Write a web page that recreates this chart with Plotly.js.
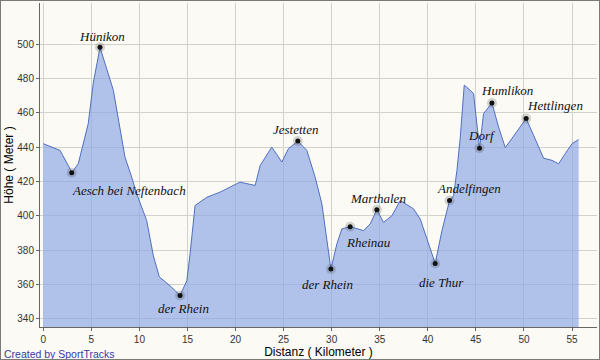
<!DOCTYPE html>
<html>
<head>
<meta charset="utf-8">
<script src="https://cdn.plot.ly/plotly-3.0.1.min.js"></script>
<style>
html,body{margin:0;padding:0;background:#fbfaf5;}
#wrap{width:598px;height:358px;border:1px solid #7a7a7a;}
</style>
</head>
<body>
<div id="wrap"><div id="chart"></div></div>
<script>
// Elevation profile (distance in km, elevation in m)
const distanceKm = [0, 1.74, 2.78, 2.96, 3.64, 4.68, 5.20, 5.90, 7.29, 8.50, 9.20, 9.72, 10.76, 11.45, 12.07, 13.18, 14.23, 14.93, 15.27, 15.61, 15.79, 17.01, 18.39, 20.13, 20.48, 22.04, 22.56, 23.77, 24.82, 25.50, 26.48, 27.42, 28.28, 28.98, 29.50, 29.92, 30.54, 31.06, 31.92, 33.31, 34.01, 34.70, 35.39, 36.27, 37.13, 38.51, 39.21, 40.07, 40.77, 41.47, 42.26, 42.68, 43.03, 43.38, 43.79, 44.41, 44.76, 45.38, 45.80, 46.67, 47.36, 48.06, 49.10, 50.23, 51.00, 52.04, 52.92, 53.60, 54.30, 55.00, 55.69];
const elevationM = [442.0, 438.1, 427.4, 425.1, 430.3, 453.7, 477.2, 498.1, 473.1, 434.2, 422.5, 412.8, 397.2, 376.8, 364.5, 359.3, 353.7, 362.2, 377.8, 399.2, 406.0, 410.8, 413.8, 418.7, 419.6, 417.7, 429.3, 440.0, 431.3, 439.1, 443.5, 438.1, 422.5, 407.0, 385.5, 369.0, 383.6, 392.4, 393.7, 391.4, 395.3, 403.5, 396.2, 400.1, 408.9, 404.1, 398.2, 384.6, 372.3, 391.4, 408.9, 411.8, 426.4, 445.9, 476.1, 473.1, 471.2, 439.4, 459.5, 465.7, 451.7, 439.7, 447.9, 456.6, 446.9, 433.6, 432.3, 430.3, 436.2, 442.0, 444.4];

// Named waypoints
const placeNames = ["Hünikon", "Aesch bei Neftenbach", "der Rhein", "Jestetten", "der Rhein", "Rheinau", "Marthalen", "die Thur", "Andelfingen", "Dorf", "Humlikon", "Hettlingen"];
const placeKm = [5.90, 2.96, 14.23, 26.48, 29.92, 31.92, 34.70, 40.77, 42.26, 45.38, 46.67, 50.23];
const placeElev = [498.1, 425.1, 353.7, 443.5, 369.0, 393.7, 403.5, 372.3, 408.9, 439.4, 465.7, 456.6];
// label offsets in pixels (style only)
const labelShiftX = [2, 57, 3, -2, -3, 18, 1, 6, 19, 2, 15, 29];
const labelShiftY = [11, -18, -13, 12, -15, -16, 11, -19, 12, 13, 12, 13];

const xTicks = [0, 5, 10, 15, 20, 25, 30, 35, 40, 45, 50, 55];
const yTicks = [340, 360, 380, 400, 420, 440, 460, 480, 500];

const traces = [
  {
    x: distanceKm, y: elevationM, type: 'scatter', mode: 'lines',
    fill: 'tozeroy', fillcolor: 'rgba(142,166,228,0.68)',
    line: {color: '#4f6fbf', width: 1}, hoverinfo: 'skip'
  },
  {
    x: placeKm, y: placeElev, type: 'scatter', mode: 'markers',
    marker: {size: 10, color: 'rgba(40,40,40,0.18)', line: {width: 0}}, hoverinfo: 'skip'
  },
  {
    x: placeKm, y: placeElev, type: 'scatter', mode: 'markers',
    marker: {size: 5, color: '#111', line: {width: 0}}, hoverinfo: 'skip'
  }
];

const annotations = placeNames.map((n, i) => ({
  x: placeKm[i], y: placeElev[i], xref: 'x', yref: 'y', text: n, showarrow: false,
  xshift: labelShiftX[i], yshift: labelShiftY[i],
  font: {family: 'Liberation Serif, DejaVu Serif, serif', size: 13, color: '#111', style: 'italic'}
}));
annotations.push({
  xref: 'paper', yref: 'paper', x: -0.068, y: -0.084, xanchor: 'left', yanchor: 'middle',
  text: 'Created by SportTracks', showarrow: false,
  font: {family: 'Liberation Sans, Arial, sans-serif', size: 10.5, color: '#3a3aa8'}
});

const layout = {
  width: 598, height: 358,
  margin: {l: 39, r: 2, t: 2, b: 32, pad: 0},
  paper_bgcolor: '#fbfaf5', plot_bgcolor: '#fbfaf5',
  showlegend: false,
  font: {family: 'Liberation Sans, Arial, sans-serif', size: 10, color: '#333'},
  xaxis: {
    range: [-0.34, 57.6], tickvals: xTicks, ticktext: xTicks.map(String),
    showgrid: true, gridcolor: '#d2d2cc', gridwidth: 1, zeroline: false,
    showline: true, linecolor: '#666', linewidth: 1,
    ticks: 'outside', ticklen: 3, tickcolor: '#666',
    tickfont: {size: 10, color: '#333'},
    title: {text: 'Distanz ( Kilometer )', standoff: 0, font: {size: 12, color: '#000'}},
    automargin: false
  },
  yaxis: {
    range: [335.3, 523.9], tickvals: yTicks, ticktext: yTicks.map(String),
    showgrid: true, gridcolor: '#d2d2cc', gridwidth: 1, zeroline: false,
    showline: true, linecolor: '#666', linewidth: 1,
    ticks: 'outside', ticklen: 3, tickcolor: '#666',
    tickfont: {size: 10, color: '#333'},
    title: {text: 'Höhe ( Meter )', standoff: 1, font: {size: 12, color: '#000'}},
    automargin: false
  },
  annotations: annotations
};

Plotly.newPlot('chart', traces, layout, {displayModeBar: false, staticPlot: true});
</script>
</body>
</html>
